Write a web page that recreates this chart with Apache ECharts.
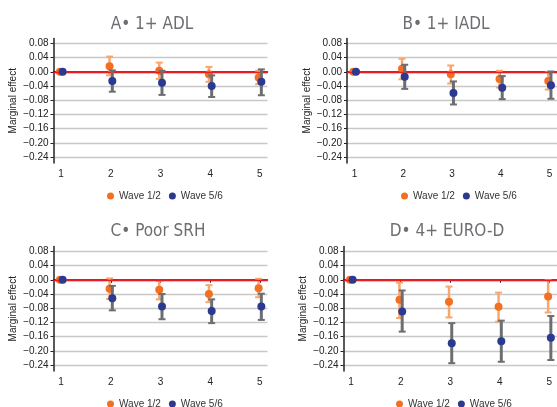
<!DOCTYPE html>
<html>
<head>
<meta charset="utf-8">
<script src="https://cdn.jsdelivr.net/npm/echarts@6/dist/echarts.min.js"></script>
<style>
  html, body { margin: 0; padding: 0; background: #fff; }
  #chart { width: 557px; height: 407px; }
</style>
</head>
<body>
<div id="chart"></div>
<script>
// waves gap groups on the x axis
const groups = [1, 2, 3, 4, 5];
const yTicks = [-0.24, -0.20, -0.16, -0.12, -0.08, -0.04, 0, 0.04, 0.08];
const titles = ['A\u2022 1+ ADL', 'B\u2022 1+ IADL', 'C\u2022 Poor SRH', 'D\u2022 4+ EURO-D'];

// A: 1+ ADL
const adlWave12 = [0, 0.016, 0.003, -0.007, -0.016];
const adlWave12Ci = [[0, 0], [-0.010, 0.043], [-0.020, 0.026], [-0.028, 0.014], [-0.035, 0.003]];
const adlWave56 = [0, -0.026, -0.031, -0.040, -0.028];
const adlWave56Ci = [[0, 0], [-0.056, 0.004], [-0.065, 0.003], [-0.071, -0.010], [-0.066, 0.007]];

// B: 1+ IADL
const iadlWave12 = [0, 0.009, -0.007, -0.020, -0.026];
const iadlWave12Ci = [[0, 0], [-0.021, 0.037], [-0.033, 0.018], [-0.044, 0.003], [-0.050, -0.001]];
const iadlWave56 = [0, -0.014, -0.060, -0.045, -0.038];
const iadlWave56Ci = [[0, 0], [-0.048, 0.020], [-0.092, -0.027], [-0.077, -0.012], [-0.076, 0.001]];

// C: Poor SRH
const srhWave12 = [0, -0.025, -0.028, -0.040, -0.024];
const srhWave12Ci = [[0, 0], [-0.054, 0.004], [-0.055, -0.003], [-0.063, -0.015], [-0.049, 0.003]];
const srhWave56 = [0, -0.052, -0.075, -0.088, -0.075];
const srhWave56Ci = [[0, 0], [-0.086, -0.017], [-0.111, -0.040], [-0.122, -0.055], [-0.113, -0.039]];

// D: 4+ EURO-D
const eurodWave12 = [0, -0.056, -0.062, -0.076, -0.047];
const eurodWave12Ci = [[0, 0], [-0.108, -0.008], [-0.106, -0.019], [-0.118, -0.036], [-0.092, -0.001]];
const eurodWave56 = [0, -0.089, -0.179, -0.173, -0.163];
const eurodWave56Ci = [[0, 0], [-0.146, -0.030], [-0.235, -0.122], [-0.231, -0.115], [-0.226, -0.102]];

const panels = [
  { w12: adlWave12, w12ci: adlWave12Ci, w56: adlWave56, w56ci: adlWave56Ci },
  { w12: iadlWave12, w12ci: iadlWave12Ci, w56: iadlWave56, w56ci: iadlWave56Ci },
  { w12: srhWave12, w12ci: srhWave12Ci, w56: srhWave56, w56ci: srhWave56Ci },
  { w12: eurodWave12, w12ci: eurodWave12Ci, w56: eurodWave56, w56ci: eurodWave56Ci }
];

const ORANGE = '#f37021', ORANGE_BAR = '#f9a66c';
const BLUE = '#2b3990', GRAY_BAR = '#6d6e71';

// layout of the four panels
const layout = [
  { left: 53.5, top: 38.5, titleX: 147, titleY: 11, legendX: 102, legendY: 186 },
  { left: 347, top: 38.5, titleX: 441, titleY: 11, legendX: 396, legendY: 186 },
  { left: 53.5, top: 246.5, titleX: 153, titleY: 218, legendX: 102, legendY: 394 },
  { left: 343.5, top: 246.5, titleX: 442, titleY: 218, legendX: 391, legendY: 394 }
];

function fmt(v) {
  const s = Math.abs(v).toFixed(2);
  return v < -1e-9 ? '\u2212' + s : s;
}

function errBar(color, width) {
  return function (params, api) {
    const x = api.value(0), lo = api.value(1), hi = api.value(2);
    if (lo === hi) return;
    const t = api.coord([x, hi]), b = api.coord([x, lo]);
    const h = 3.5;
    const style = { stroke: color, lineWidth: width };
    return {
      type: 'group',
      children: [
        { type: 'line', shape: { x1: t[0], y1: t[1], x2: b[0], y2: b[1] }, style: style },
        { type: 'line', shape: { x1: t[0] - h, y1: t[1], x2: t[0] + h, y2: t[1] }, style: { stroke: color, lineWidth: 2 } },
        { type: 'line', shape: { x1: b[0] - h, y1: b[1], x2: b[0] + h, y2: b[1] }, style: { stroke: color, lineWidth: 2 } }
      ]
    };
  };
}

const OFF12 = -0.025, OFF56 = 0.03;

const grid = [], xAxis = [], yAxis = [], series = [], title = [], legend = [];

panels.forEach(function (p, i) {
  const L = layout[i];
  grid.push({ left: L.left, top: L.top, width: 214, height: 124.5 });
  title.push({
    text: titles[i], left: L.titleX, top: L.titleY, textAlign: 'center',
    textStyle: { fontFamily: 'Liberation Sans Narrow, DejaVu Sans Condensed, sans-serif', fontWeight: 'normal', fontSize: 17, color: '#6d6e71' }
  });
  legend.push({
    data: ['Wave 1/2', 'Wave 5/6'], left: L.legendX, top: L.legendY,
    icon: 'circle', itemWidth: 7, itemHeight: 7, itemGap: 8,
    textStyle: { fontFamily: 'Liberation Sans, Arial, sans-serif', fontSize: 10, color: '#333' }
  });
  xAxis.push({
    type: 'value', gridIndex: i, min: 0.846, max: 5.154,
    axisLine: { lineStyle: { color: '#222', width: 1.5 } },
    axisTick: { show: true, length: 3, customValues: groups, lineStyle: { color: '#222' } },
    axisLabel: { customValues: groups, margin: 6, fontSize: 10, color: '#222', fontFamily: 'Liberation Sans, Arial, sans-serif' },
    splitLine: { show: false }
  });
  yAxis.push({
    type: 'value', gridIndex: i, min: -0.257, max: 0.094,
    name: 'Marginal effect', nameLocation: 'middle', nameGap: 35,
    nameTextStyle: { fontSize: 10, color: '#222', fontFamily: 'Liberation Sans, Arial, sans-serif' },
    axisLine: { show: true, lineStyle: { color: '#222', width: 1.5 } },
    axisTick: { show: true, length: 3, customValues: yTicks, lineStyle: { color: '#222' } },
    axisLabel: { customValues: yTicks, margin: 5, fontSize: 10, color: '#222', formatter: fmt, fontFamily: 'Liberation Sans, Arial, sans-serif' },
    splitLine: { show: true, lineStyle: { color: '#c8c8c8', width: 1.3 } }
  });

  series.push({
    type: 'custom', name: 'Wave 1/2', xAxisIndex: i, yAxisIndex: i,
    renderItem: errBar(ORANGE_BAR, 2.5),
    itemStyle: { color: ORANGE },
    data: groups.map(function (g, k) { return [g + OFF12, p.w12ci[k][0], p.w12ci[k][1]]; }),
    z: 3
  });
  series.push({
    type: 'scatter', name: 'Wave 1/2', xAxisIndex: i, yAxisIndex: i,
    symbolSize: 8, itemStyle: { color: ORANGE, opacity: 1 },
    data: groups.map(function (g, k) { return [g + OFF12, p.w12[k]]; }),
    markLine: {
      silent: true, symbol: 'none', label: { show: false },
      lineStyle: { color: '#ed1c24', width: 1.3, type: 'solid' },
      data: [{ yAxis: 0 }]
    },
    z: 4
  });
  series.push({
    type: 'custom', name: 'Wave 5/6', xAxisIndex: i, yAxisIndex: i,
    renderItem: errBar(GRAY_BAR, 3),
    itemStyle: { color: BLUE },
    data: groups.map(function (g, k) { return [g + OFF56, p.w56ci[k][0], p.w56ci[k][1]]; }),
    z: 5
  });
  series.push({
    type: 'scatter', name: 'Wave 5/6', xAxisIndex: i, yAxisIndex: i,
    symbolSize: 8, itemStyle: { color: BLUE, opacity: 1 },
    data: groups.map(function (g, k) { return [g + OFF56, p.w56[k]]; }),
    z: 6
  });
});

const option = {
  animation: false,
  backgroundColor: '#fff',
  title: title,
  legend: legend,
  grid: grid,
  xAxis: xAxis,
  yAxis: yAxis,
  series: series
};

const myChart = echarts.init(document.getElementById('chart'));
myChart.setOption(option);
</script>
</body>
</html>
